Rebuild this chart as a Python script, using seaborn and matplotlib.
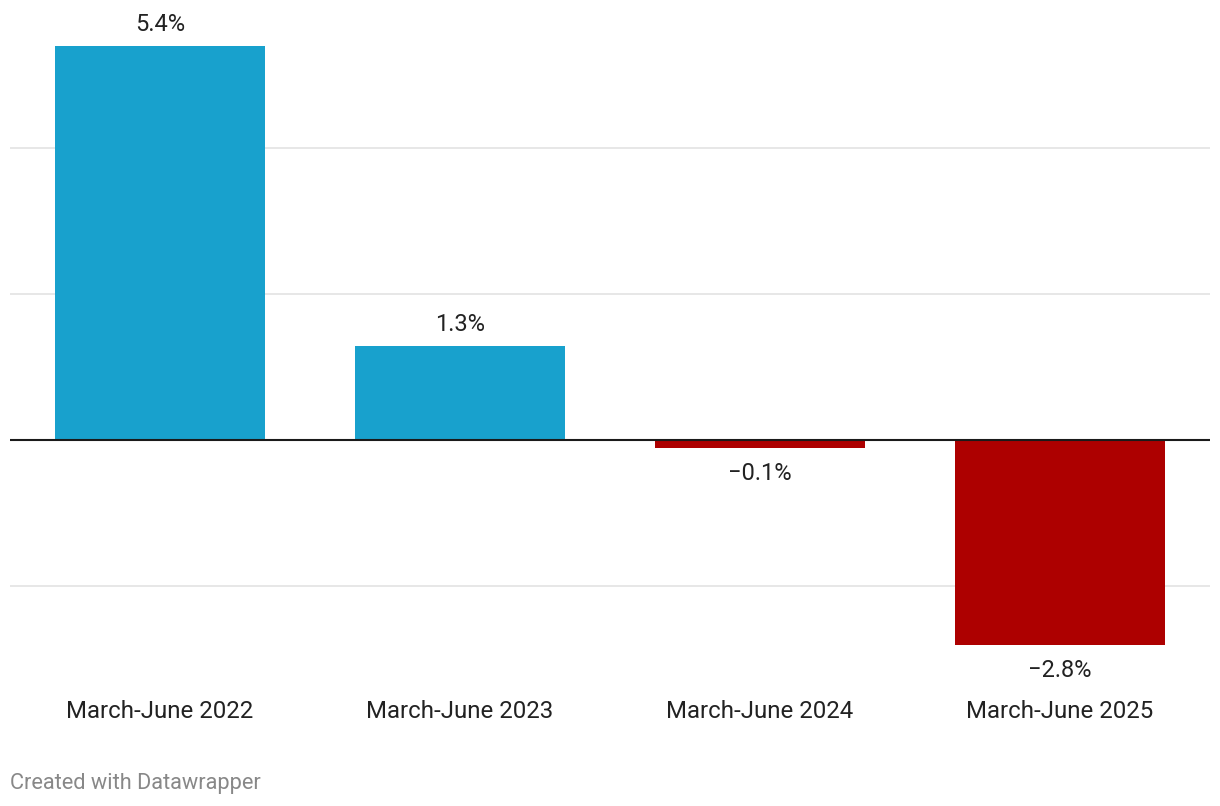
import pandas as pd
import seaborn as sns
import matplotlib.pyplot as plt

periods = ['March-June 2022', 'March-June 2023', 'March-June 2024', 'March-June 2025']
change = [5.4, 1.3, -0.1, -2.8]
labels = ['5.4%', '1.3%', '\u22120.1%', '\u22122.8%']

blue = '#18a1cd'
red = '#ad0000'

df = pd.DataFrame({'period': periods, 'change': change})
df['sign'] = ['pos' if v >= 0 else 'neg' for v in change]

sns.set_style('white')
plt.rcParams['font.family'] = ['Roboto', 'DejaVu Sans']

fig = plt.figure(figsize=(12.2, 8.06), dpi=100)
# axes placed in pixel terms: x 10..1210, y 30..680 (from top)
ax = fig.add_axes([10 / 1220, (806 - 680) / 806, 1200 / 1220, 650 / 806])

sns.barplot(data=df, x='period', y='change', hue='sign',
            palette={'pos': blue, 'neg': red}, width=0.7,
            legend=False, saturation=1, linewidth=0, ax=ax, zorder=3)

ax.set_xlim(-0.5, 3.5)
ax.set_ylim(-3.281, 5.623)

## grid
for g in [4, 2, -2]:
    ax.axhline(g, color='#e3e3e3', lw=1.2, zorder=1)
ax.axhline(0, color='#1a1a1a', lw=1.5, zorder=4)

## value labels
for i, (v, t) in enumerate(zip(change, labels)):
    ax.annotate(t, (i, v), xytext=(0, 15.5 if v >= 0 else -18.5),
                textcoords='offset points', ha='center', va='center',
                fontsize=17, color='#222222')

ax.set_yticks([])
ax.set_xlabel('')
ax.set_ylabel('')
ax.tick_params(axis='x', length=0, pad=14.5, labelsize=17.3, labelcolor='#222222')
for s in ax.spines.values():
    s.set_visible(False)

fig.text(10 / 1220, 1 - 784 / 806, 'Created with Datawrapper', ha='left', va='center',
         fontsize=15.7, color='#888888')

fig.savefig('out.png', dpi=100, facecolor='white')
